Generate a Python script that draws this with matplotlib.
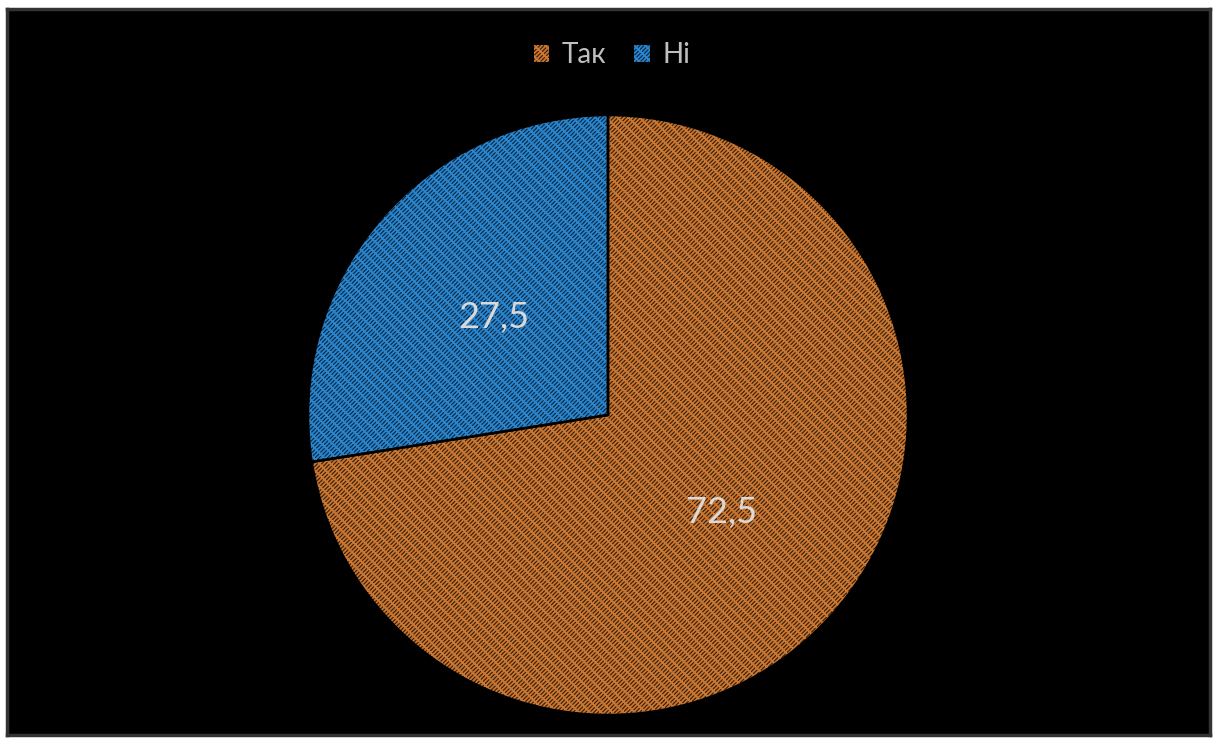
import numpy as np
import matplotlib.pyplot as plt

plt.rcParams['font.family'] = ['Lato', 'DejaVu Sans']
plt.rcParams['hatch.linewidth'] = 1.3

categories = ['Так', 'Ні']
values = [72.5, 27.5]
colors = ['#C87632', '#2A84CC']
shades = ['#351D07', '#08263F']

fig = plt.figure(figsize=(12.15, 7.42), dpi=100)
fig.patch.set_facecolor('white')

# black chart area with a thin grey frame
bg = fig.add_axes([7 / 1215, 7 / 742, 1203 / 1215, 726 / 742])
bg.set_facecolor('black')
bg.set_xticks([])
bg.set_yticks([])
for s in bg.spines.values():
    s.set_color('#333333')
    s.set_linewidth(2.5)

ax = fig.add_axes([308 / 1215, 27 / 742, 600 / 1215, 600 / 742])
ax.set_facecolor('none')

wedges, _ = ax.pie(values, startangle=90, counterclock=False, radius=1,
                   colors=shades, wedgeprops=dict(linewidth=0))
for w, c in zip(wedges, colors):
    w.set_hatch('/////xxx')
    w.set_edgecolor(c)

# outlines drawn on top so the slice borders stay dark
ax.pie(values, startangle=90, counterclock=False, radius=1,
       colors=['none'] * len(values),
       wedgeprops=dict(linewidth=1.8, edgecolor='black'))

theta = 90.0
for v in values:
    mid = np.deg2rad(theta - v / 100 * 360 / 2)
    theta -= v / 100 * 360
    ax.text(0.5 * np.cos(mid), 0.5 * np.sin(mid), f'{v:.1f}'.replace('.', ','),
            ha='center', va='center', color='#D9D9D9', fontsize=26)

ax.set_xlim(-1, 1)
ax.set_ylim(-1, 1)
ax.set_aspect('equal')

fig.legend(wedges, categories, loc='center', bbox_to_anchor=(612 / 1215, 1 - 55 / 742),
           ncol=2, frameon=False, fontsize=20, handlelength=0.55, handleheight=0.55,
           handletextpad=0.45, columnspacing=1.0, labelcolor='#BFBFBF')

fig.savefig('out.png', dpi=100, facecolor=fig.get_facecolor())
